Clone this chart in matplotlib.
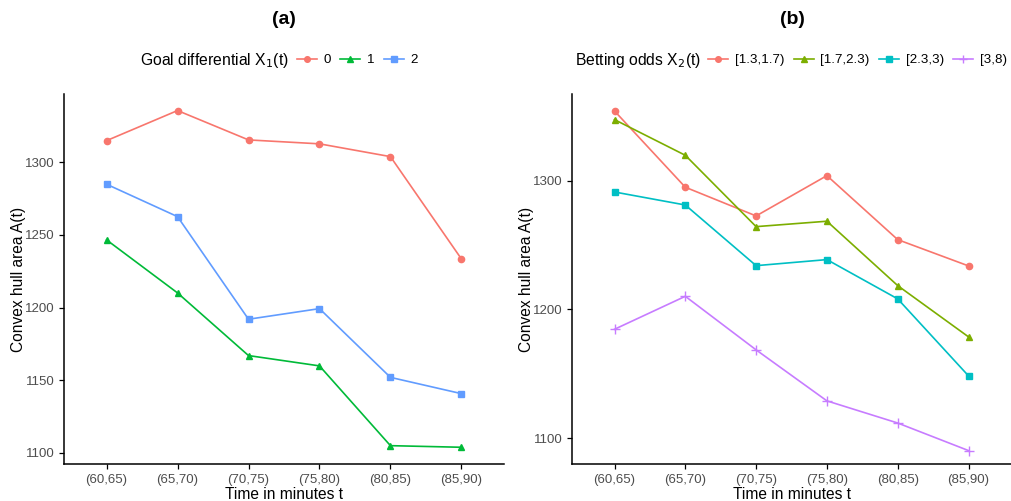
import matplotlib.pyplot as plt

plt.rcParams['font.family'] = ['Liberation Sans', 'DejaVu Sans']

periods = ['(60,65)', '(65,70)', '(70,75)', '(75,80)', '(80,85)', '(85,90)']

# panel (a): goal differential
goal_labels = ['0', '1', '2']
goal_0 = [1314.9, 1335.6, 1315.4, 1312.7, 1303.9, 1233.5]
goal_1 = [1246.6, 1210.1, 1167.0, 1159.9, 1105.0, 1103.9]
goal_2 = [1284.9, 1262.6, 1192.0, 1199.3, 1152.0, 1140.8]

# panel (b): betting odds
odds_labels = ['[1.3,1.7)', '[1.7,2.3)', '[2.3,3)', '[3,8)']
odds_1 = [1354.1, 1294.9, 1272.6, 1303.9, 1254.2, 1233.8]
odds_2 = [1347.4, 1319.7, 1264.3, 1268.5, 1218.5, 1178.7]
odds_3 = [1291.2, 1281.1, 1234.0, 1238.7, 1208.2, 1148.4]
odds_4 = [1184.6, 1210.2, 1168.6, 1129.0, 1111.8, 1090.4]

col3 = ['#F8766D', '#00BA38', '#619CFF']
col4 = ['#F8766D', '#7CAE00', '#00BFC4', '#C77CFF']

fig = plt.figure(figsize=(10.11, 5.01), dpi=100)
ax1 = fig.add_axes([0.0633, 0.0739, 0.4352, 0.7385])
ax2 = fig.add_axes([0.5658, 0.0739, 0.4342, 0.7385])

x = list(range(len(periods)))


def style(ax, ylim, yticks):
    for s in ['top', 'right']:
        ax.spines[s].set_visible(False)
    for s in ['left', 'bottom']:
        ax.spines[s].set_linewidth(1.1)
    ax.set_xlim(-0.6, len(periods) - 1 + 0.6)
    ax.set_ylim(*ylim)
    ax.set_xticks(x)
    ax.set_xticklabels(periods)
    ax.set_yticks(yticks)
    ax.tick_params(length=3.5, width=0.9, colors='black', labelcolor='#4D4D4D', labelsize=9.5)
    ax.set_xlabel('Time in minutes t', fontsize=11.2, labelpad=1)
    ax.set_ylabel('Convex hull area A(t)', fontsize=11.2, labelpad=-1)


h1 = []
for vals, c, m, lab in zip([goal_0, goal_1, goal_2], col3, ['o', '^', 's'], goal_labels):
    h, = ax1.plot(x, vals, color=c, marker=m, markersize=4.5, linewidth=1.2, label=lab)
    h1.append(h)
style(ax1, (1092.4, 1347), [1100, 1150, 1200, 1250, 1300])

h2 = []
for vals, c, m, lab in zip([odds_1, odds_2, odds_3, odds_4], col4, ['o', '^', 's', '+'], odds_labels):
    ms = 7 if m == '+' else 4.5
    h, = ax2.plot(x, vals, color=c, marker=m, markersize=ms, linewidth=1.2, label=lab)
    h2.append(h)
style(ax2, (1080, 1367.3), [1100, 1200, 1300])

fig.text(284 / 1011, 1 - 20 / 501, '(a)', fontsize=14, fontweight='bold', ha='center', va='center')
fig.text(792 / 1011, 1 - 20 / 501, '(b)', fontsize=14, fontweight='bold', ha='center', va='center')

ly = 1 - 60 / 501
leg_kw = dict(loc='center left', frameon=False, fontsize=9.6, handlelength=1.5,
              handletextpad=0.5, columnspacing=0.7, borderpad=0, borderaxespad=0,
              markerscale=0.9)
fig.text(140 / 1011, ly, 'Goal differential X$_1$(t)', fontsize=11.3, va='center')
fig.legend(handles=h1, bbox_to_anchor=(297 / 1011, ly), ncol=3, **leg_kw)
fig.text(575 / 1011, ly, 'Betting odds X$_2$(t)', fontsize=11.3, va='center')
fig.legend(handles=h2, bbox_to_anchor=(708 / 1011, ly), ncol=4, **leg_kw)

fig.savefig('out.png', dpi=100)
